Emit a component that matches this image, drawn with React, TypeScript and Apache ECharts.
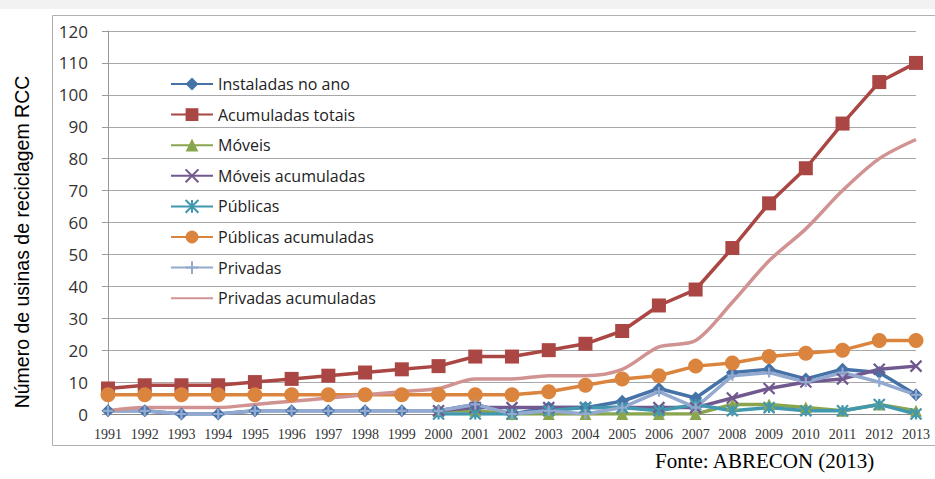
import React, { useEffect, useRef } from "react";
import * as echarts from "echarts";

const years = ["1991","1992","1993","1994","1995","1996","1997","1998","1999","2000","2001","2002","2003","2004","2005","2006","2007","2008","2009","2010","2011","2012","2013"];
const instaladasNoAno = [1,1,0,0,1,1,1,1,1,1,3,0,2,2,4,8,5,13,14,11,14,13,6];
const acumuladasTotais = [8,9,9,9,10,11,12,13,14,15,18,18,20,22,26,34,39,52,66,77,91,104,110];
const moveis = [null,null,null,null,null,null,null,null,null,1,1,0,0,0,0,0,0,3,3,2,1,3,1];
const moveisAcumuladas = [null,null,null,null,null,null,null,null,null,1,2,2,2,2,2,2,2,5,8,10,11,14,15];
const publicas = [null,null,null,null,null,null,null,null,null,0,0,0,1,2,2,1,3,1,2,1,1,3,0];
const publicasAcumuladas = [6,6,6,6,6,6,6,6,6,6,6,6,7,9,11,12,15,16,18,19,20,23,23];
const privadas = [1,1,0,0,1,1,1,1,1,1,3,0,1,0,2,7,2,12,13,10,13,10,6];
const privadasAcumuladas = [1,2,2,2,3,4,5,6,7,8,11,11,12,12,14,21,23,35,48,58,70,80,86];
const yTicks = [0,10,20,30,40,50,60,70,80,90,100,110,120];

const X_PATH = "path://M0,0L10,10M10,0L0,10";
const STAR_PATH = "path://M0,0L10,10M10,0L0,10M5,0L5,10";
const PLUS_PATH = "path://M5,0L5,10M0,5L10,5";

export default function App() {
  const ref = useRef<HTMLDivElement>(null);
  useEffect(() => {
    if (!ref.current) return;
    const chart = echarts.init(ref.current, undefined, { renderer: "svg" });
    const mk = (name: string, data: any[], color: string, symbol: string, size: number, extra: any = {}) => ({
      name,
      type: "line",
      data,
      symbol,
      symbolSize: size,
      lineStyle: { color, width: 3.5 },
      itemStyle: { color, borderColor: color, borderWidth: symbol.startsWith("path://") ? 2.2 : 0 },
      ...extra,
    });
    chart.setOption({
      animation: false,
      backgroundColor: "#ffffff",
      grid: { left: 108, right: 19, top: 31, bottom: 65 },
      legend: {
        orient: "vertical",
        left: 165,
        top: 71,
        itemWidth: 42,
        itemHeight: 16,
        itemGap: 14.6,
        textStyle: { fontFamily: "Open Sans", fontSize: 16, color: "#222", lineHeight: 16 },
        data: [
          "Instaladas no ano",
          "Acumuladas totais",
          "Móveis",
          "Móveis acumuladas",
          "Públicas",
          "Públicas acumuladas",
          "Privadas",
          { name: "Privadas acumuladas", itemStyle: { opacity: 0 } },
        ],
      },
      xAxis: {
        type: "category",
        data: years,
        boundaryGap: false,
        axisLine: { lineStyle: { color: "#888", width: 1 } },
        axisTick: { show: false },
        axisLabel: { fontFamily: "Liberation Serif", fontSize: 14, color: "#333", margin: 13, interval: 0 },
      },
      yAxis: {
        type: "value",
        min: yTicks[0],
        max: yTicks[yTicks.length - 1],
        interval: 10,
        axisLine: { show: true, lineStyle: { color: "#999", width: 1 } },
        axisTick: { show: true, length: 6, lineStyle: { color: "#999" } },
        axisLabel: { fontFamily: "Open Sans", fontSize: 17, color: "#333", margin: 20 },
        splitLine: { lineStyle: { color: "#a8a8a8", width: 1 } },
      },
      graphic: [
        { type: "rect", shape: { x: 0, y: 0, width: 935, height: 9 }, style: { fill: "#f2f2f2" }, z: -10, silent: true },
        { type: "rect", shape: { x: 52.5, y: 15.5, width: 900, height: 430 }, style: { fill: "none", stroke: "#b0b0b0", lineWidth: 1 }, z: -10, silent: true },
        {
          type: "text",
          x: 22,
          y: 242,
          rotation: Math.PI / 2,
          style: { text: "Número de usinas de reciclagem RCC", fontFamily: "Liberation Sans", fontSize: 19.5, fill: "#000", align: "center", verticalAlign: "middle" },
        },
        {
          type: "text",
          x: 655,
          y: 461,
          style: { text: "Fonte: ABRECON (2013)", fontFamily: "Liberation Serif", fontSize: 21, fill: "#000", align: "left", verticalAlign: "middle" },
        },
      ],
      series: [
        mk("Instaladas no ano", instaladasNoAno, "#4572A7", "diamond", 13),
        mk("Acumuladas totais", acumuladasTotais, "#AA4643", "rect", 14),
        mk("Móveis", moveis, "#89A54E", "triangle", 12),
        mk("Móveis acumuladas", moveisAcumuladas, "#71588F", X_PATH, 11),
        mk("Públicas", publicas, "#4198AF", STAR_PATH, 11),
        mk("Públicas acumuladas", publicasAcumuladas, "#DB843D", "circle", 15),
        mk("Privadas", privadas, "#93A9CF", PLUS_PATH, 10),
        mk("Privadas acumuladas", privadasAcumuladas, "#D19392", "circle", 0, { smooth: 0.3, showSymbol: false }),
      ],
    });
    return () => chart.dispose();
  }, []);
  return <div ref={ref} style={{ position: "fixed", left: 0, top: 0, width: 935, height: 479 }} />;
}
